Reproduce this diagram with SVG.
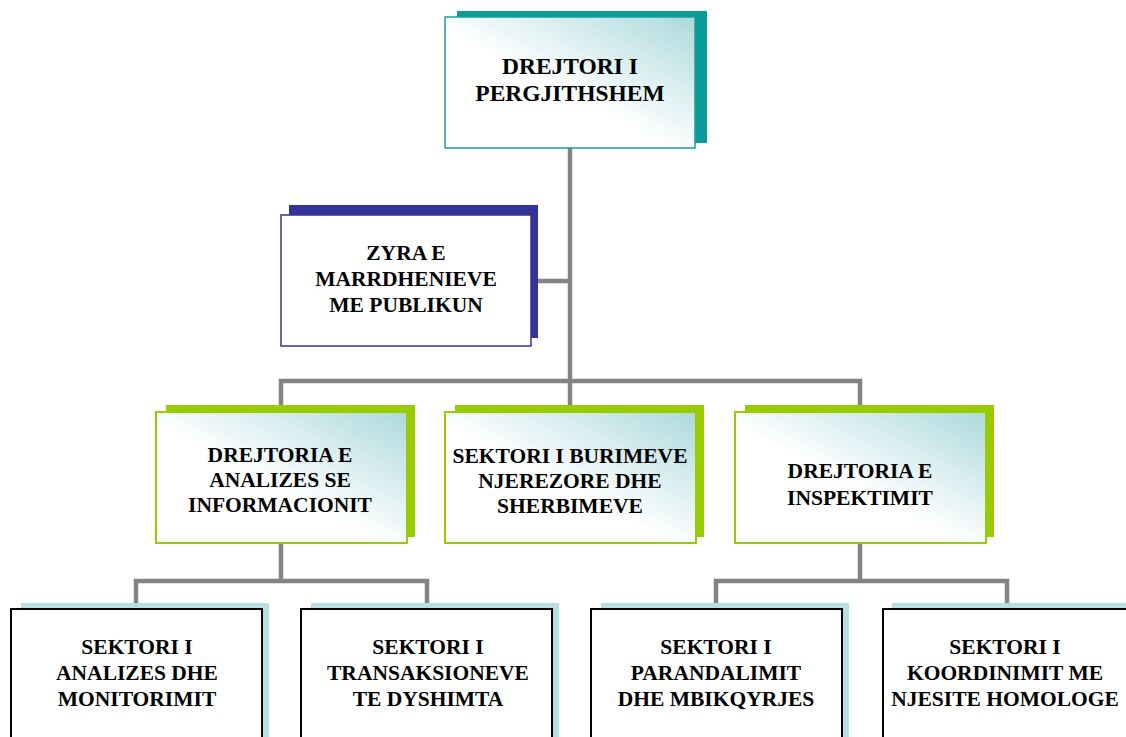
<svg xmlns="http://www.w3.org/2000/svg" width="1126" height="737" viewBox="0 0 1126 737">
  <defs>
    <linearGradient id="gTeal" x1="0" y1="1" x2="1" y2="0">
      <stop offset="0" stop-color="#ffffff"/>
      <stop offset="0.45" stop-color="#ffffff"/>
      <stop offset="1" stop-color="#acd9dc"/>
    </linearGradient>
    <style>
      .conn { fill: none; stroke: #838383; stroke-width: 4.5; stroke-linejoin: miter; }
      .txt { font-family: "Liberation Serif", "Times New Roman", serif; font-weight: bold; font-size: 21.5px; fill: #000; text-anchor: middle; }
      .big { font-size: 23.5px; }
      .shTeal { fill: #0a9a98; }
      .shNavy { fill: #333399; }
      .shGreen { fill: #99cc00; }
      .shBlue { fill: #b6dfe2; }
      .frTeal { fill: url(#gTeal); stroke: #1a9e9c; stroke-width: 1.5; }
      .frNavy { fill: #ffffff; stroke: #333399; stroke-width: 1.5; }
      .frGreen { fill: url(#gTeal); stroke: #99cc00; stroke-width: 2; }
      .frBlack { fill: #ffffff; stroke: #000000; stroke-width: 2; }
    </style>
  </defs>
  <rect width="1126" height="737" fill="#ffffff"/>

  <g id="connectors">
    <path class="conn" d="M570 148 V412"/>
    <path class="conn" d="M531 281 H570"/>
    <path class="conn" d="M281 412 V381 H860 V412"/>
    <path class="conn" d="M281 543 V581"/>
    <path class="conn" d="M136 604 V581 H427 V604"/>
    <path class="conn" d="M860 543 V581"/>
    <path class="conn" d="M716 604 V581 H1007 V604"/>
  </g>

  <g id="node-drejtori">
    <rect class="shTeal" x="457" y="11" width="250" height="132"/>
    <rect class="frTeal" x="445" y="17" width="250" height="131"/>
    <text class="txt big"><tspan x="570" y="74">DREJTORI I</tspan><tspan x="570" y="101">PERGJITHSHEM</tspan></text>
  </g>

  <g id="node-zyra">
    <rect class="shNavy" x="289" y="205" width="249" height="133"/>
    <rect class="frNavy" x="281" y="215" width="250" height="131"/>
    <text class="txt"><tspan x="406" y="260">ZYRA E</tspan><tspan x="406" y="286">MARRDHENIEVE</tspan><tspan x="406" y="312">ME PUBLIKUN</tspan></text>
  </g>

  <g id="node-analizes">
    <rect class="shGreen" x="166" y="405" width="249" height="132"/>
    <rect class="frGreen" x="156" y="412" width="251" height="131"/>
    <text class="txt"><tspan x="280" y="462">DREJTORIA E</tspan><tspan x="280" y="487">ANALIZES SE</tspan><tspan x="280" y="512">INFORMACIONIT</tspan></text>
  </g>

  <g id="node-burimeve">
    <rect class="shGreen" x="455" y="405" width="249" height="132"/>
    <rect class="frGreen" x="445" y="412" width="251" height="131"/>
    <text class="txt"><tspan x="570" y="463">SEKTORI I BURIMEVE</tspan><tspan x="570" y="488">NJEREZORE DHE</tspan><tspan x="570" y="513">SHERBIMEVE</tspan></text>
  </g>

  <g id="node-inspektimit">
    <rect class="shGreen" x="745" y="405" width="249" height="132"/>
    <rect class="frGreen" x="735" y="412" width="251" height="131"/>
    <text class="txt"><tspan x="860" y="478">DREJTORIA E</tspan><tspan x="860" y="505">INSPEKTIMIT</tspan></text>
  </g>

  <g id="node-monitorimit">
    <rect class="shBlue" x="21" y="603" width="248" height="140"/>
    <rect class="frBlack" x="11" y="609" width="251" height="140"/>
    <text class="txt"><tspan x="137" y="654">SEKTORI I</tspan><tspan x="137" y="680">ANALIZES DHE</tspan><tspan x="137" y="706">MONITORIMIT</tspan></text>
  </g>

  <g id="node-transaksioneve">
    <rect class="shBlue" x="311" y="603" width="248" height="140"/>
    <rect class="frBlack" x="301" y="609" width="251" height="140"/>
    <text class="txt"><tspan x="428" y="654">SEKTORI I</tspan><tspan x="428" y="680">TRANSAKSIONEVE</tspan><tspan x="428" y="706">TE  DYSHIMTA</tspan></text>
  </g>

  <g id="node-parandalimit">
    <rect class="shBlue" x="601" y="603" width="248" height="140"/>
    <rect class="frBlack" x="591" y="609" width="251" height="140"/>
    <text class="txt"><tspan x="716" y="654">SEKTORI I</tspan><tspan x="716" y="680">PARANDALIMIT</tspan><tspan x="716" y="706">DHE MBIKQYRJES</tspan></text>
  </g>

  <g id="node-koordinimit">
    <rect class="shBlue" x="892" y="603" width="248" height="140"/>
    <rect class="frBlack" x="883" y="609" width="251" height="140"/>
    <text class="txt"><tspan x="1005" y="654">SEKTORI I</tspan><tspan x="1005" y="680">KOORDINIMIT ME</tspan><tspan x="1005" y="706">NJESITE HOMOLOGE</tspan></text>
  </g>
</svg>
